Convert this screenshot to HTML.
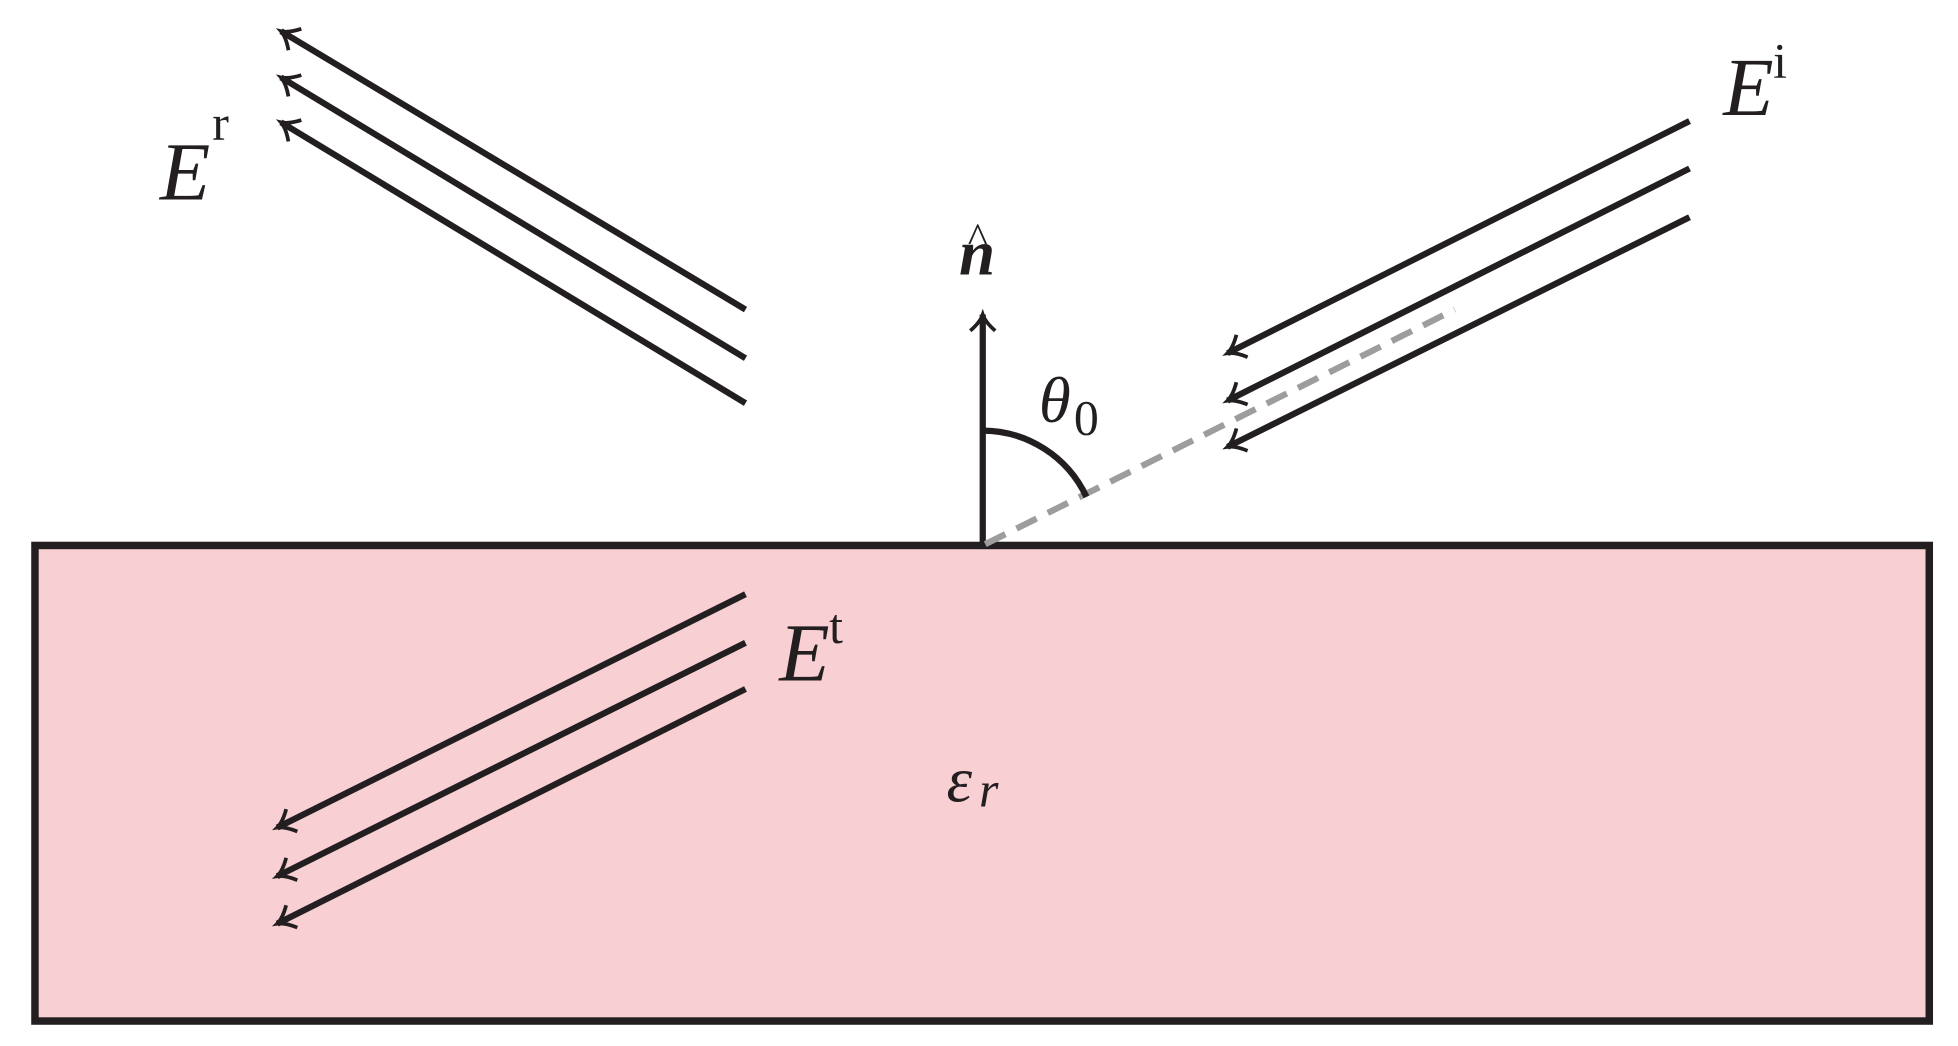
<!DOCTYPE html>
<html><head><meta charset="utf-8"><style>
html,body{margin:0;padding:0;background:#fff;width:1958px;height:1046px;overflow:hidden}
svg{display:block}
text{font-family:"Liberation Serif",serif;fill:#231f20}
</style></head><body>
<svg width="1958" height="1046" viewBox="0 0 1568 838" preserveAspectRatio="none" xmlns="http://www.w3.org/2000/svg">
<defs>
<marker id="a" markerWidth="22" markerHeight="24" refX="17" refY="12" orient="auto" markerUnits="userSpaceOnUse">
<path d="M4,2 Q11,10 17,12 Q11,14 4,22" fill="none" stroke="#231f20" stroke-width="3"/>
</marker>
</defs>
<rect x="28" y="437" width="1517" height="381" fill="#f8cfd2" stroke="#231f20" stroke-width="6"/>
<g stroke="#231f20" stroke-width="5" fill="none" marker-end="url(#a)">
<line x1="597" y1="248" x2="225" y2="25"/>
<line x1="597" y1="287" x2="225" y2="62"/>
<line x1="597" y1="323" x2="225" y2="98"/>
<line x1="1353" y1="97" x2="983" y2="283"/>
<line x1="1353" y1="135" x2="983" y2="321"/>
<line x1="1353" y1="174" x2="983" y2="358"/>
<line x1="597" y1="476" x2="222" y2="663"/>
<line x1="597" y1="515" x2="222" y2="702"/>
<line x1="597" y1="552" x2="222" y2="740"/>
<line x1="787" y1="437" x2="787" y2="252"/>
</g>
<line x1="789" y1="436" x2="1165" y2="248" stroke="#9d9d9d" stroke-width="5" stroke-dasharray="18 10"/>
<path d="M787,345 A92,92 0 0 1 870,398" fill="none" stroke="#231f20" stroke-width="5"/>
<text x="128" y="160" font-size="66" font-style="italic">E</text>
<text x="170" y="112" font-size="40">r</text>
<text x="1380" y="92" font-size="66" font-style="italic">E</text>
<text x="1420" y="62" font-size="40">i</text>
<text x="624" y="545" font-size="66" font-style="italic">E</text>
<text x="664" y="515" font-size="40">t</text>
<text x="768" y="220" font-size="52" font-style="italic" font-weight="bold">n</text>
<text x="775" y="202" font-size="34">^</text>
<text x="832" y="338" font-size="52" font-style="italic">θ</text>
<text x="860" y="348" font-size="40">0</text>
<text x="758" y="642" font-size="52" font-style="italic">ε</text>
<text x="784" y="646" font-size="40" font-style="italic">r</text>
</svg>
</body></html>
